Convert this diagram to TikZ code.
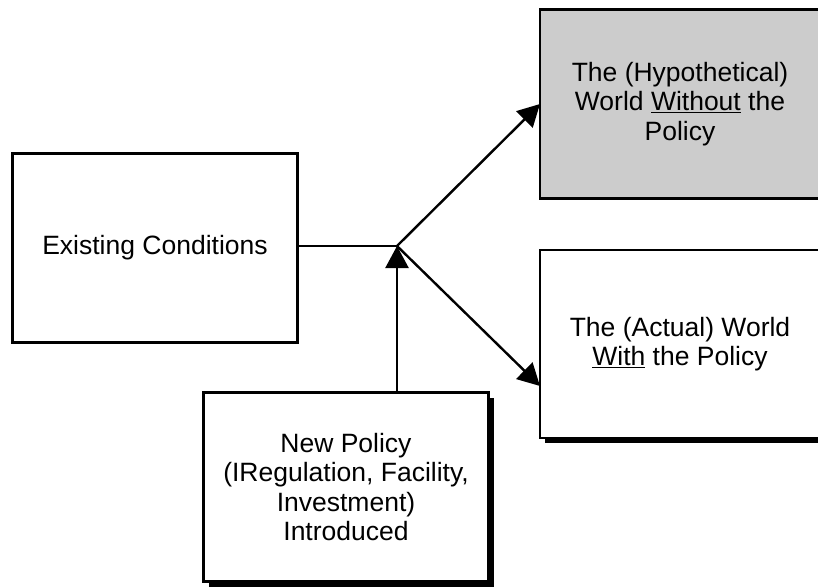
\documentclass[tikz,border=0pt]{standalone}
\usepackage{fontspec}
\setmainfont{Liberation Sans}
\usetikzlibrary{arrows.meta,shadows,calc}
\begin{document}
\begin{tikzpicture}[x=1pt,y=-1pt,
  box/.style={draw=black, line width=2.6pt, fill=white, align=center,
    inner sep=0pt, outer sep=0pt,
    font=\fontsize{26.5}{29.5}\selectfont},
  shad/.style={drop shadow={shadow xshift=5pt, shadow yshift=-5pt, fill=black, opacity=1}},
  conn/.style={line width=2.4pt},
  arr/.style={conn, -{Triangle[length=22pt,width=23pt]}}]
\useasboundingbox (0,0) rectangle (818,586);
\begin{scope}
\clip (0,0) rectangle (818,586);
\node[box, minimum width=285pt, minimum height=189pt] (ex) at (155,248) {Existing Conditions};
\node[box, fill=black!20, minimum width=280pt, minimum height=189pt] (hyp) at (680,104)
  {The (Hypothetical)\\World \underline{Without} the\\Policy};
\node[box, shad, minimum width=280pt, minimum height=188pt] (act) at (680,344)
  {The (Actual) World\\\underline{With} the Policy};
\node[box, shad, minimum width=285pt, minimum height=189pt] (np) at (346,487)
  {New Policy\\(IRegulation, Facility,\\Investment)\\ Introduced};
\coordinate (j) at (397,246);
\coordinate (lowtip) at (act.west |- 0,386);
\draw[conn] (ex.east |- j) -- (j);
\draw[arr] (np.north -| j) -- (j);
\draw[arr] (j) -- (hyp.west);
\draw[arr] (j) -- (lowtip);
\end{scope}
\end{tikzpicture}
\end{document}
